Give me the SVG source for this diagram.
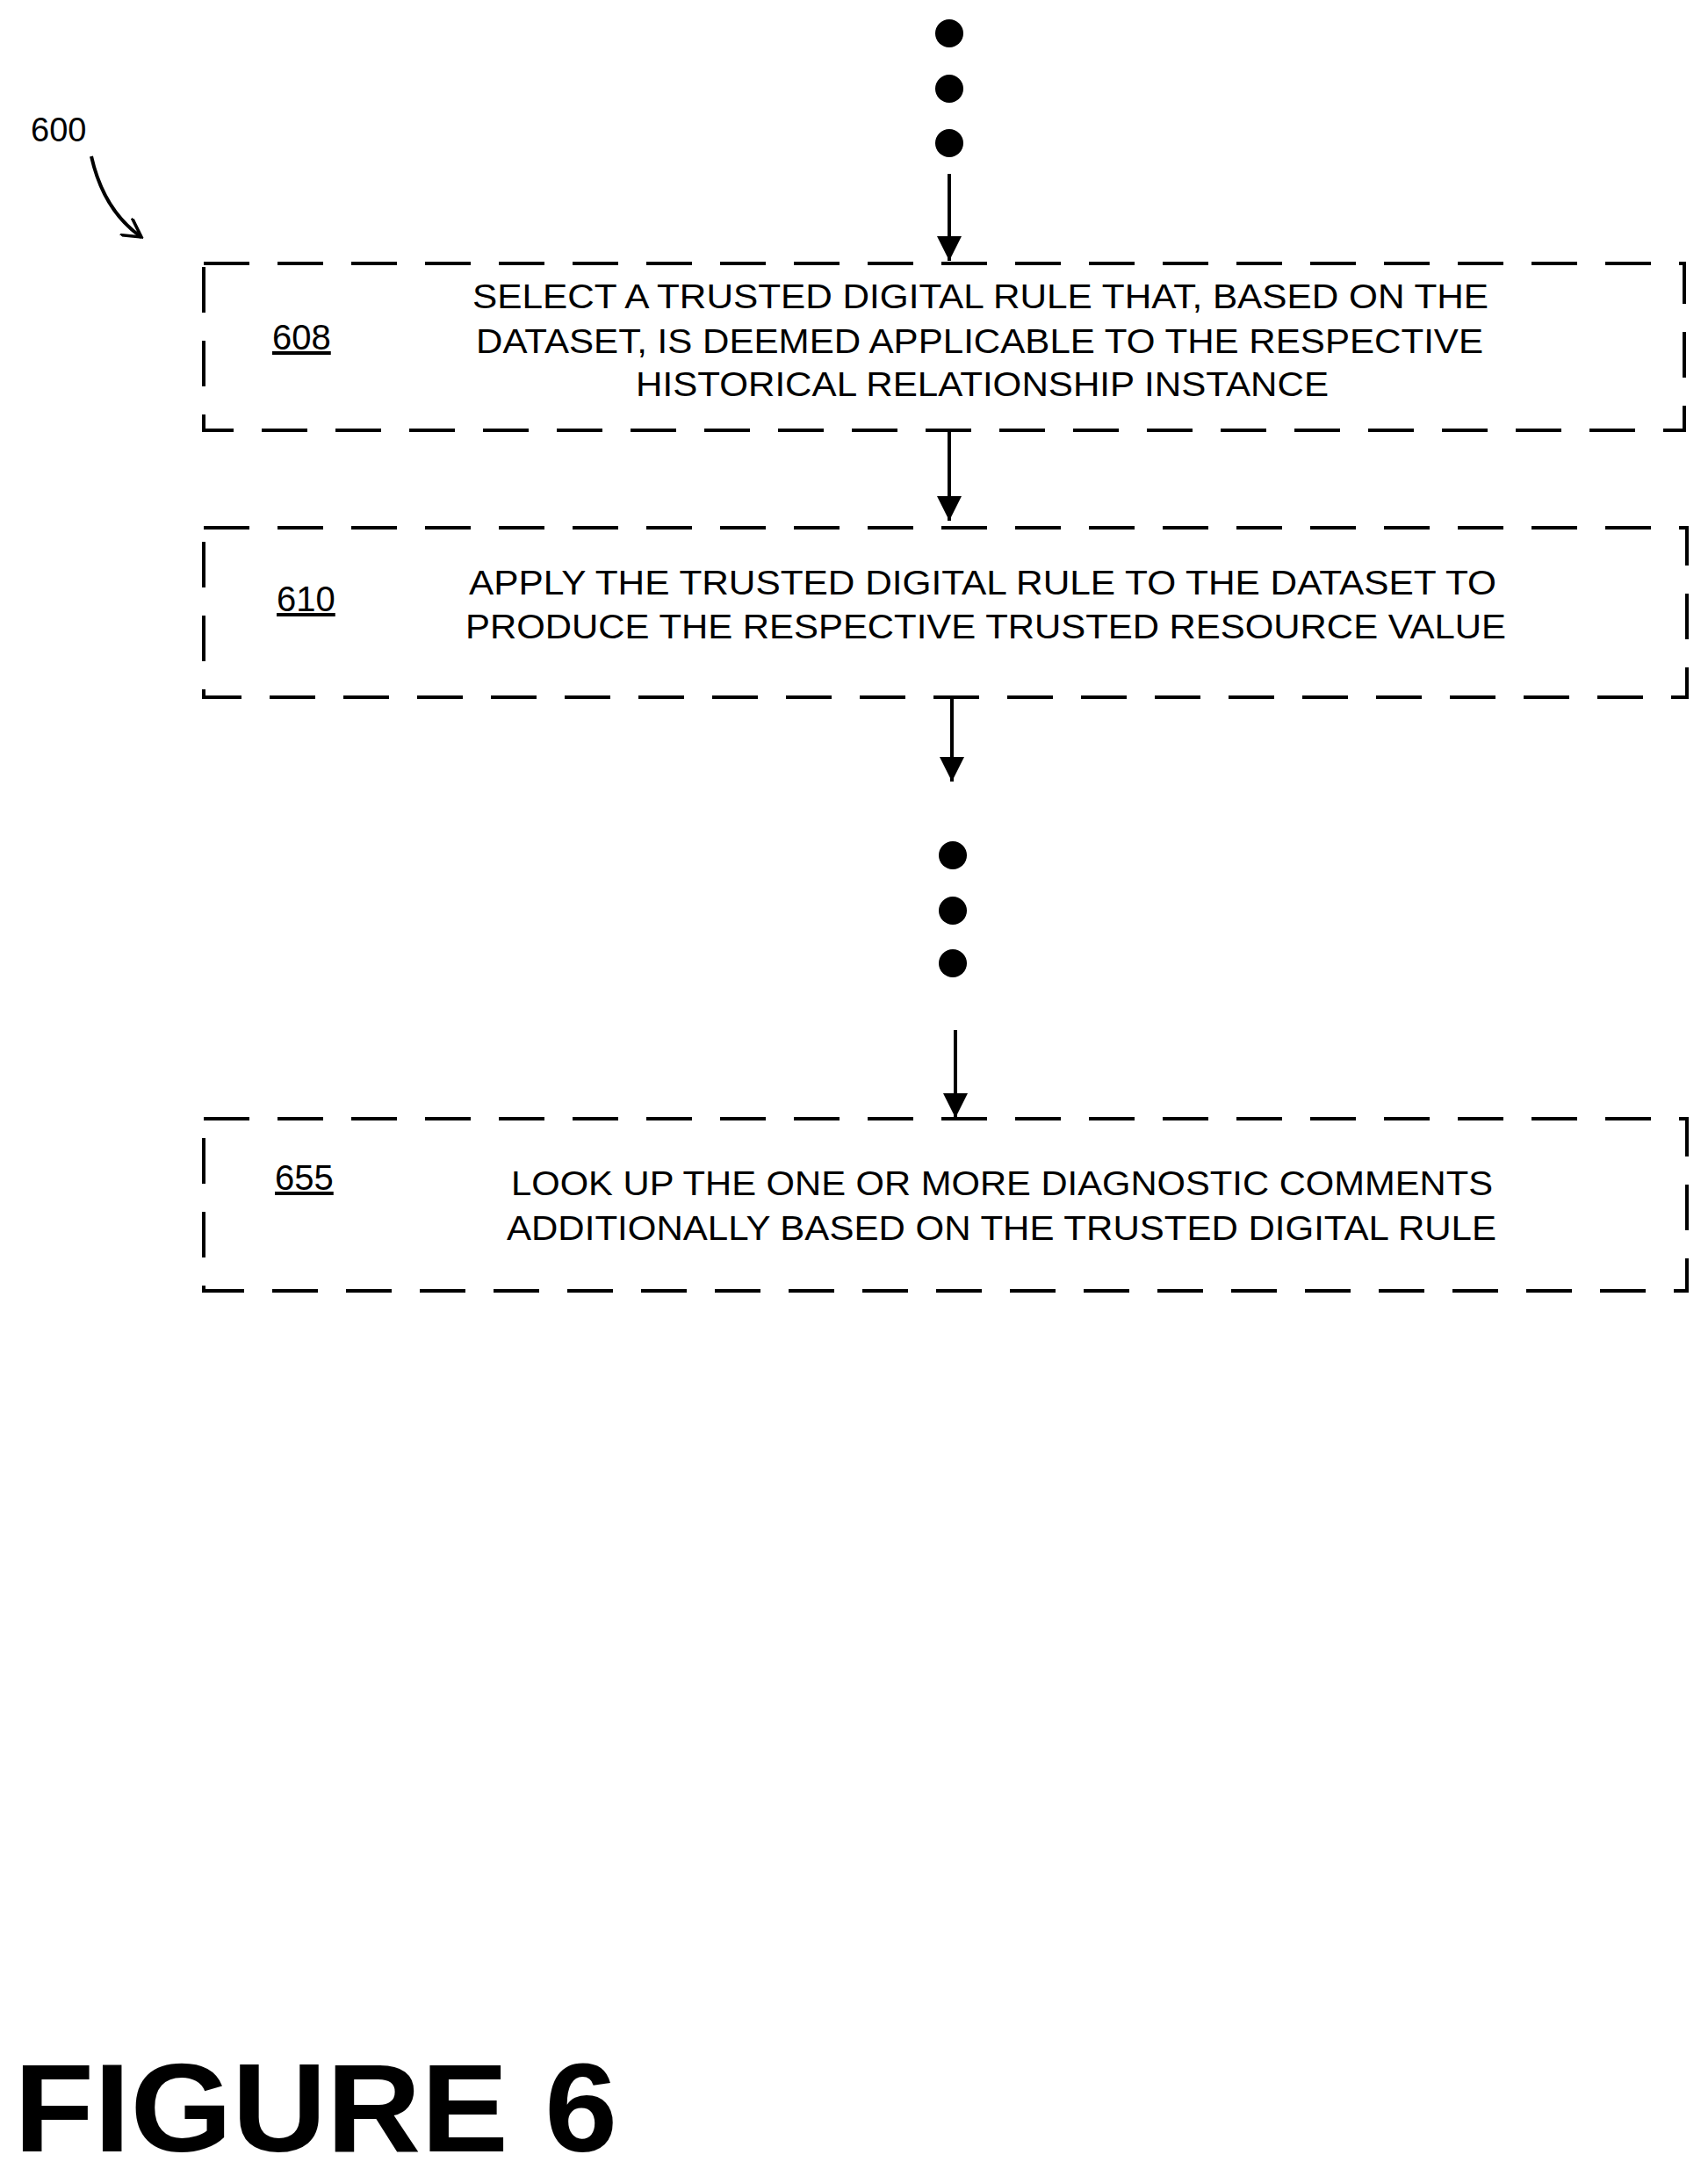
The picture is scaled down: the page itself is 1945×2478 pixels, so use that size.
<svg xmlns="http://www.w3.org/2000/svg" width="1945" height="2478" viewBox="0 0 1945 2478">
<style>
.box{fill:none;stroke:#000;stroke-width:4;stroke-dasharray:52 32}
.t{font-family:"Liberation Sans",Arial,sans-serif;font-size:38px;fill:#000}
.lbl{font-family:"Liberation Sans",Arial,sans-serif;font-size:40px;fill:#000;text-decoration:underline}
.c{stroke:#000;stroke-width:4;fill:none}
</style>
<defs>
<marker id="ah" viewBox="0 0 10 10" refX="10" refY="5" markerWidth="7" markerHeight="8" markerUnits="strokeWidth" orient="auto"><path d="M0,0 L10,5 L0,10 z" fill="#000"/></marker>
<marker id="oh" viewBox="0 0 10 10" refX="9" refY="5" markerWidth="6" markerHeight="6" markerUnits="strokeWidth" orient="auto"><path d="M0,0 L9,5 L0,10" fill="none" stroke="#000" stroke-width="1.5"/></marker>
</defs>
<g id="ref600">
<text x="35" y="161" style="font-family:'Liberation Sans',Arial,sans-serif;font-size:38px">600</text>
<path class="c" d="M104,178 Q118,240 161,270" stroke-width="3" marker-end="url(#oh)"/>
</g>
<g id="dots">
<circle cx="1081" cy="38" r="16"/><circle cx="1081" cy="101" r="16"/><circle cx="1081" cy="163" r="16"/>
<circle cx="1085" cy="974" r="16"/><circle cx="1085" cy="1037" r="16"/><circle cx="1085" cy="1097" r="16"/>
</g>
<g id="connectors">
<line class="c" x1="1081" y1="198" x2="1081" y2="297" marker-end="url(#ah)"/>
<line class="c" x1="1081" y1="492" x2="1081" y2="593" marker-end="url(#ah)"/>
<line class="c" x1="1084" y1="796" x2="1084" y2="890" marker-end="url(#ah)"/>
<line class="c" x1="1088" y1="1173" x2="1088" y2="1273" marker-end="url(#ah)"/>
</g>
<g id="n608">
<rect class="box" x="232" y="300" width="1686" height="190"/>
<text class="lbl" x="310" y="398">608</text>
<text class="t" x="538" y="351" textLength="1157" lengthAdjust="spacingAndGlyphs">SELECT A TRUSTED DIGITAL RULE THAT, BASED ON THE</text>
<text class="t" x="542" y="402" textLength="1147" lengthAdjust="spacingAndGlyphs">DATASET, IS DEEMED APPLICABLE TO THE RESPECTIVE</text>
<text class="t" x="724" y="451" textLength="789" lengthAdjust="spacingAndGlyphs">HISTORICAL RELATIONSHIP INSTANCE</text>
</g>
<g id="n610">
<rect class="box" x="232" y="601" width="1689" height="193"/>
<text class="lbl" x="315" y="696">610</text>
<text class="t" x="534" y="677" textLength="1170" lengthAdjust="spacingAndGlyphs">APPLY THE TRUSTED DIGITAL RULE TO THE DATASET TO</text>
<text class="t" x="530" y="727" textLength="1185" lengthAdjust="spacingAndGlyphs">PRODUCE THE RESPECTIVE TRUSTED RESOURCE VALUE</text>
</g>
<g id="n655">
<rect class="box" x="232" y="1274" width="1689" height="196"/>
<text class="lbl" x="313" y="1355">655</text>
<text class="t" x="582" y="1361" textLength="1118" lengthAdjust="spacingAndGlyphs">LOOK UP THE ONE OR MORE DIAGNOSTIC COMMENTS</text>
<text class="t" x="577" y="1412" textLength="1127" lengthAdjust="spacingAndGlyphs">ADDITIONALLY BASED ON THE TRUSTED DIGITAL RULE</text>
</g>
<text x="16" y="2450" textLength="687" lengthAdjust="spacingAndGlyphs" style="font-family:'Liberation Sans',Arial,sans-serif;font-size:143px;font-weight:bold">FIGURE 6</text>
</svg>
